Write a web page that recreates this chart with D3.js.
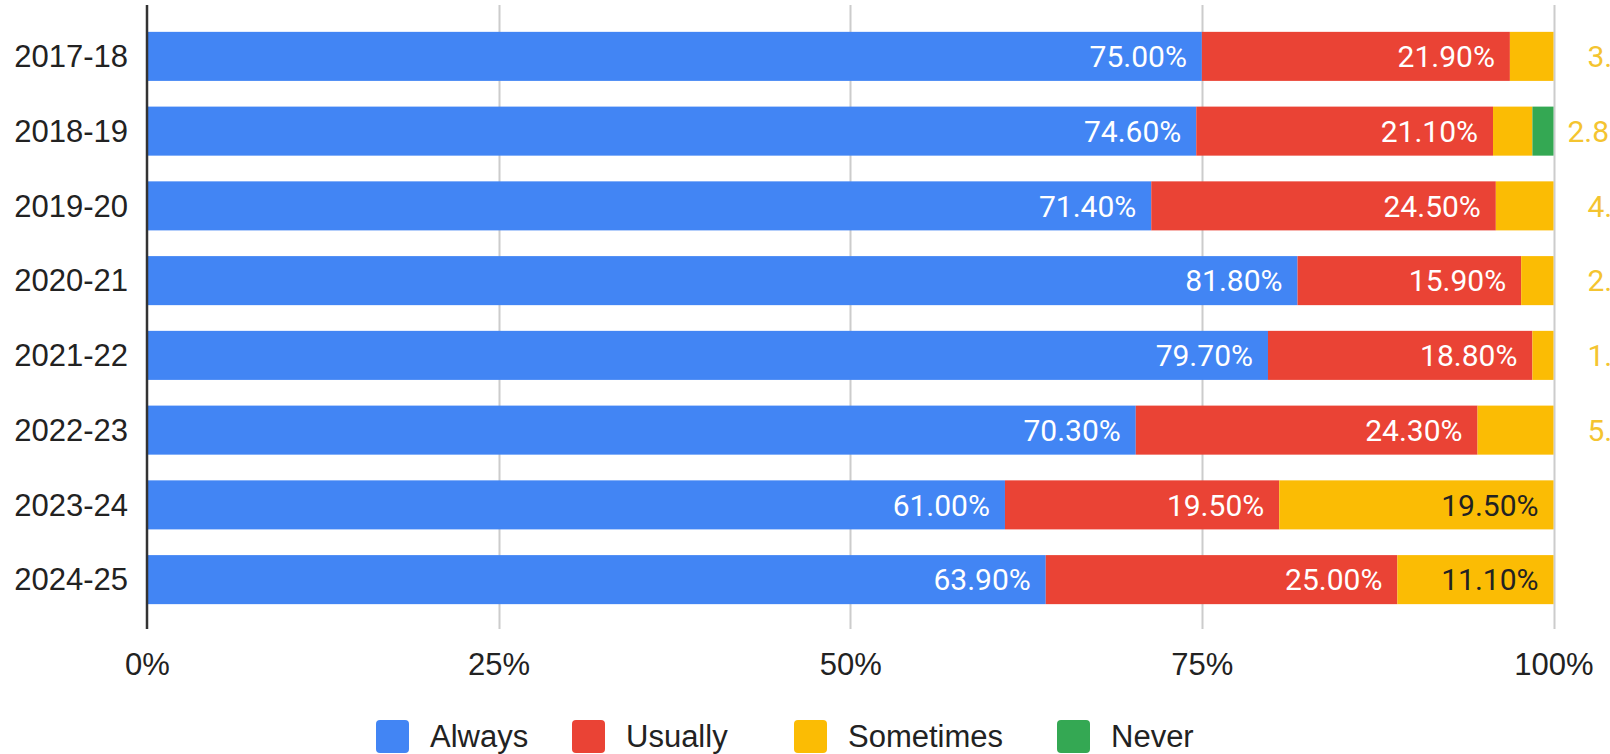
<!DOCTYPE html>
<html>
<head>
<meta charset="utf-8">
<script src="https://cdn.jsdelivr.net/npm/d3@7"></script>
<style>
  html, body { margin: 0; padding: 0; background: #fff; overflow: hidden; }
  svg { display: block; }
</style>
</head>
<body>
<svg id="chart" width="1610" height="754"></svg>
<script>
const categories = ["2017-18", "2018-19", "2019-20", "2020-21", "2021-22", "2022-23", "2023-24", "2024-25"];
const seriesNames = ["Always", "Usually", "Sometimes", "Never"];
const always    = [75.0, 74.6, 71.4, 81.8, 79.7, 70.3, 61.0, 63.9];
const usually   = [21.9, 21.1, 24.5, 15.9, 18.8, 24.3, 19.5, 25.0];
const sometimes = [3.1, 2.8, 4.1, 2.3, 1.5, 5.4, 19.5, 11.1];
const never     = [0, 1.5, 0, 0, 0, 0, 0, 0];
const xTicks = [0, 25, 50, 75, 100];
const colors = ["#4285F4", "#EA4335", "#FBBC04", "#34A853"];
const labelColors = ["#ffffff", "#ffffff", "#222222", "#ffffff"];

const values = [always, usually, sometimes, never];
const rows = categories.map((c, i) => {
  const r = { cat: c };
  seriesNames.forEach((s, k) => r[s] = values[k][i]);
  return r;
});

const svg = d3.select("#chart");
const x = d3.scaleLinear().domain([0, 100]).range([147, 1553.5]);
const y = d3.scaleBand().domain(categories).range([19, 617]).paddingInner(0.344).paddingOuter(0.172);

// gridlines
svg.append("g").selectAll("line").data(xTicks.filter(t => t > 0)).join("line")
  .attr("x1", d => Math.round(x(d)) + 0.5).attr("x2", d => Math.round(x(d)) + 0.5)
  .attr("y1", 5).attr("y2", 629)
  .attr("stroke", "#cccccc").attr("stroke-width", 2);

const stack = d3.stack().keys(seriesNames)(rows);

const gBars = svg.append("g");
stack.forEach((layer, k) => {
  gBars.append("g").selectAll("rect").data(layer).join("rect")
    .attr("x", d => x(d[0]))
    .attr("width", d => Math.max(0, x(d[1]) - x(d[0])))
    .attr("y", d => y(d.data.cat))
    .attr("height", y.bandwidth())
    .attr("fill", colors[k]);
});

// axis line
svg.append("line").attr("x1", 147).attr("x2", 147).attr("y1", 5).attr("y2", 629)
  .attr("stroke", "#333").attr("stroke-width", 2.5);

// category labels
svg.append("g").selectAll("text").data(categories).join("text")
  .attr("x", 128).attr("y", d => y(d) + y.bandwidth() / 2)
  .attr("dy", "0.35em").attr("text-anchor", "end")
  .attr("font-family", "'Liberation Sans', Arial, sans-serif").attr("font-size", 31)
  .attr("fill", "#222").text(d => d);

// x tick labels
const xAxis = d3.axisBottom(x).tickValues(xTicks).tickFormat(d => d + "%").tickSize(0).tickPadding(0);
const gx = svg.append("g").attr("transform", "translate(0,675)").call(xAxis);
gx.select(".domain").remove();
gx.selectAll("text").attr("dy", 0).attr("y", 0)
  .attr("font-family", "'Liberation Sans', Arial, sans-serif").attr("font-size", 31).attr("fill", "#222");

// data labels
const gLab = svg.append("g").attr("font-family", "Roboto, sans-serif").attr("font-size", 30);
const outsideNext = {};
stack.forEach((layer, k) => {
  layer.forEach(d => {
    const v = d[1] - d[0];
    if (v <= 0) return;
    const txt = v.toFixed(2) + "%";
    const cy = y(d.data.cat) + y.bandwidth() / 2;
    const t = gLab.append("text").attr("y", cy).attr("dy", "0.36em").text(txt);
    const w = t.node().getComputedTextLength();
    const segW = x(d[1]) - x(d[0]);
    if (w + 30 <= segW) {
      t.attr("x", x(d[1]) - 15).attr("text-anchor", "end").attr("fill", labelColors[k]);
    } else {
      const cat = d.data.cat;
      const hasNever = d.data.Never > 0;
      let sx = outsideNext[cat] !== undefined ? outsideNext[cat] : x(100) + (hasNever ? 14 : 34);
      t.attr("x", sx).attr("text-anchor", "start").attr("fill", colors[k] === "#34A853" ? "#34A853" : "#F4C430");
      outsideNext[cat] = sx + w + 20;
    }
  });
});

// legend
const legendX = [376, 572, 794, 1057];
const gLeg = svg.append("g");
seriesNames.forEach((s, k) => {
  gLeg.append("rect").attr("x", legendX[k]).attr("y", 720).attr("width", 33).attr("height", 33)
    .attr("rx", 4).attr("fill", colors[k]);
  gLeg.append("text").attr("x", legendX[k] + 54).attr("y", 736).attr("dy", "0.36em")
    .attr("font-family", "'Liberation Sans', Arial, sans-serif").attr("font-size", 31)
    .attr("fill", "#222").text(s);
});
</script>
</body>
</html>
